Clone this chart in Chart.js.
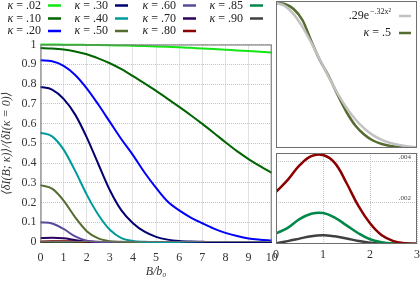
<!DOCTYPE html>
<html>
<head>
<meta charset="utf-8">
<script src="https://cdn.jsdelivr.net/npm/chart.js@4.4.1/dist/chart.umd.min.js"></script>
<style>
  body { margin: 0; background: #fff; width: 420px; height: 283px; overflow: hidden; position: relative; }
  canvas { position: absolute; }
  #main { left: 0; top: 0; }
  #top { left: 270px; top: 0; }
  #bot { left: 270px; top: 148px; }
</style>
</head>
<body>
<canvas id="main" width="278" height="283"></canvas>
<canvas id="top" width="150" height="150"></canvas>
<canvas id="bot" width="150" height="135"></canvas>
<script>
// main panel: <dI(B;k)>/<dI(k=0)> against B/b0
var B = [0, 0.5, 1, 1.5, 2, 2.5, 3, 3.5, 4, 4.5, 5, 5.5, 6, 6.5, 7, 7.5, 8, 8.5, 9, 9.5, 10];
var kappas = ['.02', '.10', '.20', '.30', '.40', '.50', '.60', '.70', '.80', '.85', '.90'];
var colors = ['#14e614', '#006400', '#0000ff', '#000070', '#009a9a', '#556b2f',
              '#5a4a9a', '#2c0060', '#8b0000', '#008848', '#404040'];

var k02 = [1.000, 1.000, .999, .999, .998, .997, .996, .995, .994, .992, .990, .988, .986, .983, .980, .977, .974, .970, .967, .963, .959];
var k10 = [.982, .980, .975, .965, .951, .930, .905, .875, .840, .803, .765, .725, .684, .642, .598, .552, .505, .460, .420, .384, .350];
var k20 = [.920, .915, .892, .846, .778, .696, .608, .520, .440, .352, .274, .205, .160, .124, .095, .068, .046, .030, .018, .012, .008];
var k30 = [.785, .772, .725, .645, .530, .395, .262, .160, .095, .052, .026, .012, .005, .002, .001, 0, 0, 0, 0, 0, 0];
var k40 = [.553, .535, .468, .360, .240, .138, .062, .020, .005, .001, 0, 0, 0, 0, 0, 0, 0, 0, 0, 0, 0];
var k50 = [.288, .270, .210, .125, .055, .018, .004, .001, 0, 0, 0, 0, 0, 0, 0, 0, 0, 0, 0, 0, 0];
var k60 = [.100, .094, .066, .028, .006, .001, 0, 0, 0, 0, 0, 0, 0, 0, 0, 0, 0, 0, 0, 0, 0];
var k70 = [.020, .022, .019, .010, .003, .0005, 0, 0, 0, 0, 0, 0, 0, 0, 0, 0, 0, 0, 0, 0, 0];
var k80 = [.0025, .0038, .0043, .0030, .0010, .00014, 0, 0, 0, 0, 0, 0, 0, 0, 0, 0, 0, 0, 0, 0, 0];
var k85 = [.0005, .0012, .0015, .0009, .00023, .00003, 0, 0, 0, 0, 0, 0, 0, 0, 0, 0, 0, 0, 0, 0, 0];
var k90 = [.00004, .00026, .00042, .00027, .00006, 0, 0, 0, 0, 0, 0, 0, 0, 0, 0, 0, 0, 0, 0, 0, 0];
var series = [k02, k10, k20, k30, k40, k50, k60, k70, k80, k85, k90];

var xTicksMain = [0, 1, 2, 3, 4, 5, 6, 7, 8, 9, 10];
var yTicksMain = [0, 0.1, 0.2, 0.3, 0.4, 0.5, 0.6, 0.7, 0.8, 0.9, 1];
var yLabelsMain = ['0', '0.1', '0.2', '0.3', '0.4', '0.5', '0.6', '0.7', '0.8', '0.9', '1'];

// top inset: kappa=.5 vs gaussian fit
var xTop = [0, .25, .5, .75, 1, 1.25, 1.5, 1.75, 2, 2.25, 2.5, 2.75, 3, 3.25, 3.5, 3.75, 4];
var fitTop = [.290, .2843, .2677, .2422, .2106, .1759, .1412, .1088, .0806, .0574, .0392, .0258, .0163, .0099, .0058, .0032, .0017];
var k50Top = [.290, .288, .278, .256, .214, .175, .143, .106, .072, .045, .027, .015, .008, .004, .002, .001, .0005];

// bottom inset: the three largest kappas
var xBot = [0, .25, .5, .75, 1, 1.25, 1.5, 1.75, 2, 2.25, 2.5, 2.75, 3];
var k80Bot = [.00252, .00310, .00380, .00425, .00430, .00392, .00295, .00185, .00100, .00042, .00014, .00004, .00001];
var k85Bot = [.00051, .00078, .00120, .00146, .00150, .00128, .00090, .00052, .00023, .00009, .00003, .00001, 0];
var k90Bot = [.00004, .00014, .00026, .00038, .00042, .00037, .00027, .00015, .00006, .00002, .00001, 0, 0];
var xTicksBot = [0, 1, 2, 3];
var yTicksBot = [0.002, 0.004];
var yLabelsBot = ['.002', '.004'];

var SERIF = "'Liberation Serif', 'DejaVu Serif', serif";

function pts(xs, ys) {
    return xs.map(function (x, i) { return { x: x, y: ys[i] }; });
}

// grey frame round the plot area
var framePlugin = {
    id: 'frame',
    afterDatasetsDraw: function (chart) {
        var a = chart.chartArea, c = chart.ctx;
        c.save();
        c.strokeStyle = '#6e6e6e';
        c.lineWidth = 1;
        c.strokeRect(a.left + 0.5, a.top + 0.5, a.right - a.left - 1, a.bottom - a.top - 1);
        c.restore();
    }
};

// legend like the reference: text first, then a short line
function kappaLegend(items, opts) {
    return {
        id: 'kleg',
        afterDraw: function (chart) {
            var c = chart.ctx;
            c.save();
            c.textBaseline = 'middle';
            c.fillStyle = '#222';
            items.forEach(function (it) {
                var xEnd = it.lx - opts.gap;
                if (it.sup) {
                    c.font = (opts.size - 4) + 'px ' + SERIF;
                    c.textAlign = 'right';
                    c.fillText(it.sup, xEnd, it.y - 4);
                    xEnd -= c.measureText(it.sup).width + 1;
                }
                c.font = opts.size + 'px ' + SERIF;
                c.textAlign = 'right';
                c.fillText(it.rest, xEnd, it.y);
                var wRest = c.measureText(it.rest).width;
                if (it.kappa) {
                    c.font = 'italic ' + opts.size + 'px ' + SERIF;
                    c.fillText('κ', xEnd - wRest, it.y);
                }
                c.strokeStyle = it.color;
                c.lineWidth = opts.lw;
                c.beginPath();
                c.moveTo(it.lx, it.y);
                c.lineTo(it.lx + opts.len, it.y);
                c.stroke();
            });
            c.restore();
        }
    };
}

// small y labels sitting inside the bottom inset, right side
var insideLabels = {
    id: 'inlab',
    afterDatasetsDraw: function (chart) {
        var c = chart.ctx, a = chart.chartArea, y = chart.scales.y;
        c.save();
        c.font = '7px ' + SERIF;
        c.fillStyle = '#444';
        c.textAlign = 'right';
        c.textBaseline = 'bottom';
        yTicksBot.forEach(function (v, i) {
            c.fillText(yLabelsBot[i], a.right - 6, y.getPixelForValue(v) - 0.5);
        });
        c.restore();
    }
};

// keep tick labels from pushing the plot area inwards
function noSidePad(s) {
    s.paddingLeft = 0; s.paddingRight = 0; s.paddingTop = 0; s.paddingBottom = 0;
}

var legCols = [48, 115, 183, 250];
var legRows = [5.5, 18.5, 31];
var mainItems = kappas.map(function (k, i) {
    return { kappa: true, rest: ' = ' + k, color: colors[i],
             lx: legCols[Math.floor(i / 3)], y: legRows[i % 3] };
});

var gridCommon = { color: '#c4c4c4', lineWidth: 1, drawTicks: false };

new Chart(document.getElementById('main'), {
    type: 'line',
    data: {
        datasets: series.map(function (s, i) {
            return {
                label: 'κ = ' + kappas[i],
                data: pts(B, s),
                borderColor: colors[i],
                borderWidth: 2,
                pointRadius: 0,
                cubicInterpolationMode: 'monotone',
                clip: false
            };
        })
    },
    options: {
        responsive: false,
        animation: false,
        events: [],
        layout: { padding: { top: 44.5, right: 6.3, left: 0, bottom: 0 } },
        plugins: { legend: { display: false }, tooltip: { enabled: false } },
        scales: {
            x: {
                type: 'linear', min: 0, max: 10,
                afterBuildTicks: function (s) { s.ticks = xTicksMain.map(function (v) { return { value: v }; }); },
                afterFit: function (s) { s.height = 41; noSidePad(s); },
                grid: gridCommon,
                border: { display: false, dash: [1, 1] },
                ticks: { padding: 9, color: '#333', font: { family: SERIF, size: 12 }, maxRotation: 0 },
                title: { display: true, text: 'B/b₀', color: '#333', padding: { top: 0, bottom: 4 },
                         font: { family: SERIF, size: 12, style: 'italic' } }
            },
            y: {
                type: 'linear', min: 0, max: 1,
                afterBuildTicks: function (s) { s.ticks = yTicksMain.map(function (v) { return { value: v }; }); },
                afterFit: function (s) { s.width = 40.5; noSidePad(s); },
                grid: gridCommon,
                border: { display: false, dash: [1, 1] },
                ticks: {
                    padding: 4, color: '#333', font: { family: SERIF, size: 12 },
                    callback: function (v, i) { return yLabelsMain[i]; }
                },
                title: { display: true, text: '⟨δI(B; κ)⟩/⟨δI(κ = 0)⟩', color: '#333', padding: 0,
                         font: { family: SERIF, size: 12, style: 'italic' } }
            }
        }
    },
    plugins: [framePlugin, kappaLegend(mainItems, { size: 12, gap: 7, len: 13, lw: 2.5 })]
});

// top inset
new Chart(document.getElementById('top'), {
    type: 'line',
    data: {
        datasets: [
            { data: pts(xTop, fitTop), borderColor: '#c2c2c2', borderWidth: 2.5, pointRadius: 0, cubicInterpolationMode: 'monotone' },
            { data: pts(xTop, k50Top), borderColor: colors[5], borderWidth: 2.5, pointRadius: 0, cubicInterpolationMode: 'monotone' }
        ]
    },
    options: {
        responsive: false,
        animation: false,
        events: [],
        layout: { padding: { top: 1, right: 3, left: 6, bottom: 2 } },
        plugins: { legend: { display: false }, tooltip: { enabled: false } },
        scales: {
            x: { type: 'linear', min: 0, max: 4, display: false },
            y: { type: 'linear', min: 0, max: 0.294, display: false }
        }
    },
    plugins: [framePlugin, kappaLegend([
        { kappa: false, rest: '.29e', sup: '−.32x²', color: '#c2c2c2', lx: 129, y: 16 },
        { kappa: true, rest: ' = .5', color: colors[5], lx: 129, y: 33 }
    ], { size: 12, gap: 8, len: 12, lw: 2.5 })]
});

// bottom inset
new Chart(document.getElementById('bot'), {
    type: 'line',
    data: {
        datasets: [
            { data: pts(xBot, k80Bot), borderColor: colors[8], borderWidth: 2.5, pointRadius: 0, tension: 0.4 },
            { data: pts(xBot, k85Bot), borderColor: colors[9], borderWidth: 2.5, pointRadius: 0, tension: 0.4 },
            { data: pts(xBot, k90Bot), borderColor: colors[10], borderWidth: 2.5, pointRadius: 0, tension: 0.4 }
        ]
    },
    options: {
        responsive: false,
        animation: false,
        events: [],
        layout: { padding: { top: 5, right: 3, left: 6, bottom: 0 } },
        plugins: { legend: { display: false }, tooltip: { enabled: false } },
        scales: {
            x: {
                type: 'linear', min: 0, max: 3,
                afterBuildTicks: function (s) { s.ticks = xTicksBot.map(function (v) { return { value: v }; }); },
                afterFit: function (s) { s.height = 39; noSidePad(s); },
                grid: gridCommon,
                border: { display: false, dash: [1, 1] },
                ticks: { padding: 4, color: '#333', font: { family: SERIF, size: 12 }, maxRotation: 0 }
            },
            y: {
                type: 'linear', min: 0, max: 0.0044, position: 'right',
                afterBuildTicks: function (s) { s.ticks = yTicksBot.map(function (v) { return { value: v }; }); },
                afterFit: function (s) { s.width = 0; noSidePad(s); },
                grid: gridCommon,
                border: { display: false, dash: [1, 1] },
                ticks: { display: false }
            }
        }
    },
    plugins: [framePlugin, insideLabels]
});
</script>
</body>
</html>
